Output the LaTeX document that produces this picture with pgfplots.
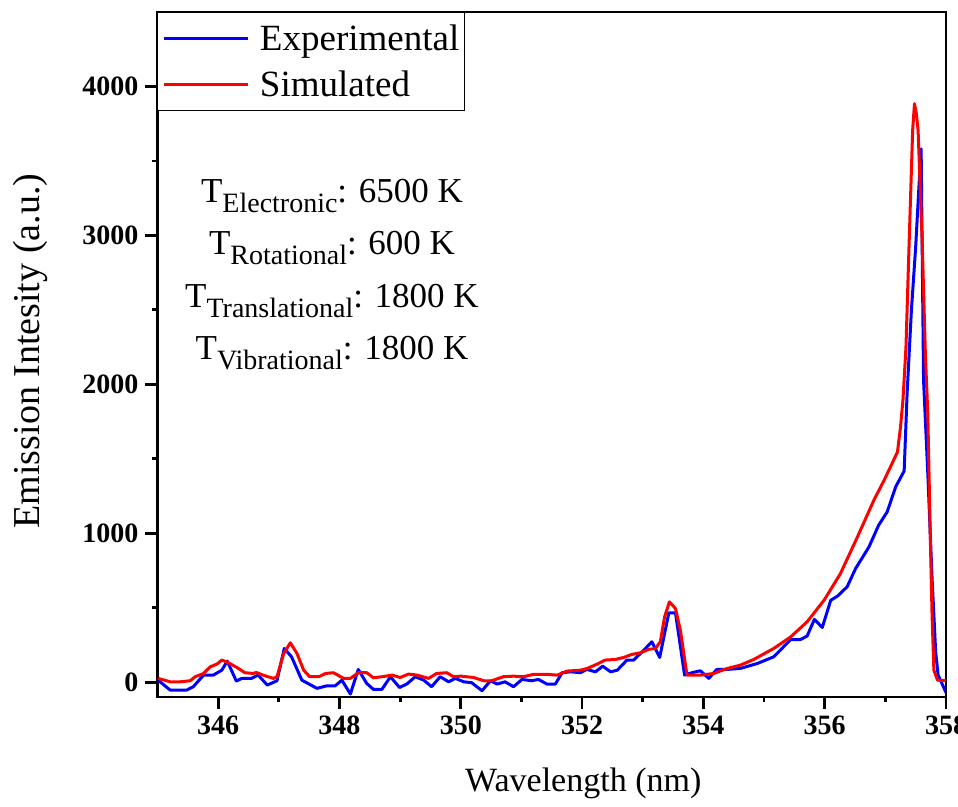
\documentclass[border=0pt]{standalone}
\usepackage{fontspec}
\setmainfont{Liberation Serif}
\usepackage{pgfplots}
\pgfplotsset{compat=1.18}
\pgfplotstableread{
x y
345.01 13
345.21 -54
345.48 -54
345.59 -31
345.76 47
345.92 47
346.06 80
346.15 141
346.30 7
346.39 25
346.55 25
346.66 47
346.81 -20
346.97 9
347.09 226
347.21 170
347.38 13
347.63 -42
347.79 -25
347.93 -25
348.04 13
348.18 -80
348.31 85
348.45 -9
348.56 -49
348.70 -49
348.84 36
348.99 -36
349.11 -13
349.25 36
349.39 13
349.52 -31
349.66 36
349.80 2
349.91 25
350.05 2
350.18 -4
350.35 -58
350.49 9
350.60 -13
350.73 2
350.87 -31
351.01 18
351.17 9
351.28 18
351.42 -13
351.56 -13
351.67 63
351.81 69
351.97 63
352.08 85
352.22 69
352.34 107
352.47 69
352.58 80
352.74 148
352.85 148
353.02 215
353.15 271
353.28 166
353.43 465
353.54 465
353.69 47
353.81 63
353.95 76
354.09 25
354.22 85
354.39 85
354.61 92
354.89 125
355.16 170
355.44 286
355.60 286
355.71 309
355.83 421
355.96 367
356.10 550
356.21 577
356.37 640
356.51 763
356.73 908
356.89 1054
357.03 1143
357.17 1311
357.31 1418
357.36 1950
357.43 2500
357.50 2922
357.55 3300
357.59 3581
357.63 2027
357.70 1400
357.77 700
357.83 200
357.87 47
358.00 -70
}\exper
\pgfplotstableread{
x y
345.01 25
345.21 2
345.37 2
345.54 9
345.62 36
345.76 58
345.87 103
345.98 121
346.06 148
346.17 130
346.31 98
346.44 63
346.58 58
346.63 65
346.74 47
346.91 25
346.97 36
347.08 192
347.19 264
347.30 192
347.41 80
347.51 36
347.66 36
347.77 58
347.90 63
348.07 25
348.18 25
348.31 63
348.45 63
348.56 29
348.70 36
348.87 47
349.00 31
349.14 54
349.28 47
349.47 25
349.60 58
349.77 63
349.88 36
350.00 40
350.21 31
350.38 9
350.51 9
350.70 36
350.87 40
351.03 36
351.20 52
351.42 52
351.59 47
351.75 74
351.97 80
352.08 91
352.25 121
352.38 148
352.55 152
352.69 166
352.82 186
352.96 197
353.10 220
353.21 226
353.29 271
353.36 438
353.44 539
353.54 494
353.62 349
353.73 47
353.95 47
354.17 58
354.39 91
354.61 114
354.83 152
355.16 226
355.44 304
355.71 405
355.99 550
356.26 729
356.54 975
356.81 1221
356.98 1356
357.09 1450
357.20 1546
357.25 1713
357.29 1893
357.34 2250
357.39 2922
357.45 3705
357.48 3884
357.51 3820
357.54 3705
357.61 2922
357.66 2200
357.70 1800
357.74 1000
357.77 450
357.80 80
357.86 13
358.00 10
}\simul
\begin{document}
\begin{tikzpicture}
\begin{axis}[
  scale only axis,
  width=394.25pt, height=342.5pt,
  xmin=345, xmax=358, ymin=-100, ymax=4500,
  xtick={346,348,...,358},
  ytick={0,1000,...,4000},
  minor x tick num=1, minor y tick num=1,
  tick align=outside,
  tick pos=left,
  major tick length=6pt, minor tick length=2.5pt,
  tick style={black, line width=1.4pt},
  axis line style={line width=1.4pt},
  /pgf/number format/1000 sep={},
  /pgf/number format/assume math mode=true,
  ticklabel style={font=\fontsize{14}{16}\selectfont\bfseries},
  xlabel={Wavelength (nm)},
  ylabel={Emission Intesity (a.u.)},
  xlabel style={at={(axis description cs:0.54,0)}, anchor=base, yshift=-47.5pt, font=\fontsize{17}{20}\selectfont},
  ylabel style={at={(axis description cs:-0.1617,0.505)}, anchor=center, font=\fontsize{19}{22}\selectfont},
  legend style={at={(0,1)}, anchor=north west, draw=black, line width=0.5pt, fill=white,
    font=\fontsize{18.5}{22}\selectfont, inner xsep=2.5pt, inner ysep=7pt, row sep=10.8pt,
    column sep=5pt, nodes={inner sep=0pt, text height=12.2pt, text depth=0pt}},
  legend cell align=left,
  legend image code/.code={\draw[#1] (0pt,0pt) -- (42pt,0pt);},
]
\addplot[blue, line width=1.5pt, line join=round] table[x=x,y=y] {\exper};
\addlegendentry{Experimental}
\addplot[red, line width=1.5pt, line join=round] table[x=x,y=y] {\simul};
\addlegendentry{Simulated}
\node[anchor=base, font=\fontsize{17.5}{20}\selectfont] at (axis description cs:0.2213,0.7226)
  {T\raisebox{-5pt}{\fontsize{14}{16}\selectfont Electronic}: 6500 K};
\node[anchor=base, font=\fontsize{17.5}{20}\selectfont] at (axis description cs:0.2213,0.6453)
  {T\raisebox{-5pt}{\fontsize{14}{16}\selectfont Rotational}: 600 K};
\node[anchor=base, font=\fontsize{17.5}{20}\selectfont] at (axis description cs:0.2213,0.5693)
  {T\raisebox{-5pt}{\fontsize{14}{16}\selectfont Translational}: 1800 K};
\node[anchor=base, font=\fontsize{17.5}{20}\selectfont] at (axis description cs:0.2213,0.4920)
  {T\raisebox{-5pt}{\fontsize{14}{16}\selectfont Vibrational}: 1800 K};
\end{axis}
\pgfresetboundingbox
\path ([xshift=-78.75pt,yshift=-55pt]current axis.south west) rectangle ([xshift=6pt,yshift=6pt]current axis.north east);
\end{tikzpicture}
\end{document}
